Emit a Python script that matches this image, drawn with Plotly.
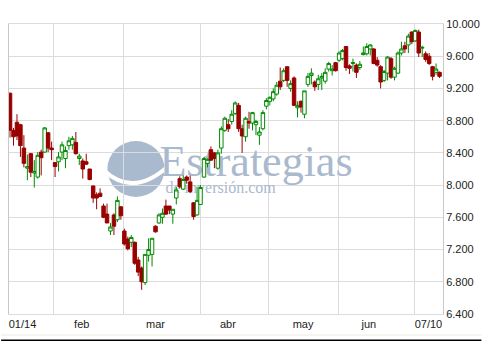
import plotly.graph_objects as go

# ---------------- data ----------------
day_index = list(range(125))
opens = [9.14, 8.68, 8.78, 8.75, 8.46, 8.21, 8.39, 8.15, 8.10, 8.41,
         8.41, 8.65, 8.46, 8.28, 8.29, 8.41, 8.33, 8.49, 8.50, 8.53,
         8.33, 8.30, 8.29, 8.20, 7.99, 7.88, 7.90, 7.74, 7.64, 7.43,
         7.63, 7.57, 7.73, 7.43, 7.33, 7.29, 7.29, 7.07, 6.97, 6.79,
         7.13, 7.14, 7.49, 7.53, 7.60, 7.74, 7.74, 7.64, 7.84, 8.08,
         7.95, 8.10, 8.04, 7.78, 7.63, 7.76, 8.10, 8.27, 8.44, 8.40,
         8.21, 8.46, 8.68, 8.75, 8.79, 8.89, 8.99, 8.70, 8.60, 8.79,
         8.77, 8.75, 8.62, 8.70, 8.98, 9.04, 9.07, 9.13, 9.29, 9.30,
         9.47, 9.20, 9.33, 8.96, 9.04, 8.88, 9.25, 9.36, 9.28, 9.25,
         9.33, 9.29, 9.44, 9.42, 9.52, 9.55, 9.57, 9.72, 9.48, 9.51,
         9.49, 9.46, 9.62, 9.63, 9.69, 9.69, 9.55, 9.47, 9.30, 9.39,
         9.57, 9.34, 9.39, 9.64, 9.73, 9.74, 9.90, 9.79, 9.90, 9.70,
         9.63, 9.60, 9.47, 9.40, 9.40]
highs = [9.15, 8.71, 8.88, 8.76, 8.62, 8.38, 8.40, 8.31, 8.41, 8.44,
         8.72, 8.66, 8.54, 8.28, 8.41, 8.54, 8.48, 8.60, 8.61, 8.66,
         8.39, 8.33, 8.39, 8.20, 7.99, 7.91, 7.96, 7.77, 7.77, 7.53,
         7.65, 7.86, 7.74, 7.46, 7.36, 7.38, 7.30, 7.11, 6.99, 7.14,
         7.34, 7.34, 7.50, 7.65, 7.71, 7.82, 7.74, 7.70, 7.98, 8.11,
         8.12, 8.12, 8.12, 7.79, 7.98, 8.00, 8.35, 8.33, 8.48, 8.41,
         8.44, 8.73, 8.85, 8.82, 8.93, 9.04, 9.02, 8.75, 8.85, 8.91,
         8.91, 8.81, 8.72, 8.93, 9.08, 9.10, 9.20, 9.28, 9.46, 9.45,
         9.47, 9.30, 9.35, 9.04, 9.05, 9.17, 9.39, 9.45, 9.30, 9.37,
         9.39, 9.45, 9.53, 9.49, 9.53, 9.66, 9.69, 9.72, 9.50, 9.57,
         9.51, 9.54, 9.72, 9.76, 9.75, 9.70, 9.59, 9.49, 9.43, 9.60,
         9.59, 9.47, 9.66, 9.78, 9.78, 9.88, 9.91, 9.93, 9.93, 9.73,
         9.66, 9.64, 9.48, 9.51, 9.41]
lows = [8.59, 8.49, 8.56, 8.35, 8.22, 8.06, 8.10, 7.97, 8.08, 8.12,
        8.40, 8.41, 8.31, 8.10, 8.17, 8.31, 8.21, 8.44, 8.44, 8.38,
        8.25, 8.08, 8.25, 8.06, 7.78, 7.70, 7.85, 7.59, 7.53, 7.38,
        7.38, 7.54, 7.57, 7.25, 7.19, 7.23, 7.01, 6.87, 6.70, 6.76,
        7.05, 6.99, 7.41, 7.52, 7.52, 7.63, 7.64, 7.52, 7.76, 7.96,
        7.94, 8.02, 7.90, 7.57, 7.62, 7.76, 8.09, 8.22, 8.30, 8.21,
        8.19, 8.39, 8.66, 8.66, 8.75, 8.87, 8.66, 8.40, 8.54, 8.70,
        8.68, 8.62, 8.50, 8.68, 8.94, 8.99, 9.04, 9.11, 9.18, 9.28,
        9.22, 9.16, 8.98, 8.84, 8.90, 8.83, 9.22, 9.25, 9.17, 9.18,
        9.18, 9.26, 9.41, 9.36, 9.41, 9.53, 9.55, 9.42, 9.38, 9.41,
        9.33, 9.43, 9.61, 9.61, 9.61, 9.50, 9.47, 9.20, 9.28, 9.30,
        9.32, 9.30, 9.38, 9.61, 9.64, 9.64, 9.75, 9.78, 9.59, 9.59,
        9.53, 9.49, 9.30, 9.37, 9.33]
closes = [8.68, 8.60, 8.61, 8.49, 8.27, 8.23, 8.16, 8.17, 8.37, 8.34,
          8.71, 8.46, 8.44, 8.23, 8.35, 8.50, 8.43, 8.55, 8.58, 8.39,
          8.36, 8.20, 8.26, 8.07, 7.84, 7.84, 7.86, 7.60, 7.53, 7.48,
          7.49, 7.81, 7.62, 7.27, 7.21, 7.35, 7.03, 6.92, 6.80, 7.14,
          7.20, 7.34, 7.42, 7.63, 7.65, 7.64, 7.69, 7.70, 7.94, 7.98,
          8.07, 8.06, 7.92, 7.61, 7.81, 7.97, 8.33, 8.32, 8.31, 8.33,
          8.40, 8.70, 8.83, 8.70, 8.88, 9.02, 8.70, 8.61, 8.83, 8.77,
          8.90, 8.79, 8.66, 8.90, 9.05, 9.09, 9.16, 9.24, 9.22, 9.42,
          9.30, 9.26, 8.99, 8.99, 8.97, 9.17, 9.35, 9.39, 9.22, 9.32,
          9.35, 9.40, 9.51, 9.44, 9.42, 9.64, 9.67, 9.46, 9.45, 9.52,
          9.40, 9.50, 9.64, 9.72, 9.74, 9.51, 9.49, 9.28, 9.41, 9.59,
          9.34, 9.45, 9.64, 9.69, 9.69, 9.85, 9.78, 9.92, 9.64, 9.71,
          9.56, 9.51, 9.35, 9.44, 9.35]

y_tick_vals = [6.4, 6.8, 7.2, 7.6, 8.0, 8.4, 8.8, 9.2, 9.6, 10.0]
y_tick_text = ["6.400", "6.800", "7.200", "7.600", "8.000", "8.400",
               "8.800", "9.200", "9.600", "10.000"]
x_label_pos = [3.6, 20.7, 42.0, 62.9, 84.6, 103.6, 120.8]
x_label_text = ["01/14", "feb", "mar", "abr", "may", "jun", "07/10"]
x_grid_pos = [12.5, 32.7, 55.1, 74.7, 94.9, 116.8]

# ---------------- geometry ----------------
W, H = 488, 341
L, R, T, B = 8, 449, 24, 314
XR = [-0.3, 125.0]
YR = [6.4, 10.0]


def px_x(px):
    return XR[0] + (px - L) / (R - L) * (XR[1] - XR[0])


def py_y(py):
    return YR[1] - (py - T) / (B - T) * (YR[1] - YR[0])


def pap_x(px):
    return (px - L) / (R - L)


def pap_y(py):
    return (B - py) / (B - T)


GRID = "#dcdcdc"
WM = "#a9b9ce"
TXT = "#222222"
FONT = "Liberation Sans, Arial, sans-serif"

fig = go.Figure()

# watermark text (base subplot, below the candles)
fig.add_trace(go.Scatter(
    x=[px_x(259), px_x(223)], y=[py_y(165), py_y(189)],
    mode="text", text=["Estrategias", "de inversión.com"],
    textfont=dict(family="Liberation Serif, Times New Roman, serif",
                  size=[44, 16], color=WM),
    textposition="middle center", hoverinfo="skip", showlegend=False,
    xaxis="x", yaxis="y"))

# candles on the overlaying subplot
fig.add_trace(go.Candlestick(
    x=day_index, open=opens, high=highs, low=lows, close=closes,
    increasing=dict(line=dict(color="#008a00", width=1), fillcolor="#ffffff"),
    decreasing=dict(line=dict(color="#990000", width=1), fillcolor="#990000"),
    whiskerwidth=0, showlegend=False, hoverinfo="skip",
    xaxis="x2", yaxis="y2"))

shapes = [
    # logo disc
    dict(type="circle", xref="paper", yref="paper", layer="between",
         x0=pap_x(108), x1=pap_x(166), y0=pap_y(197), y1=pap_y(141),
         fillcolor=WM, line=dict(width=0)),
    # logo swoosh
    dict(type="path", xref="paper", yref="paper", layer="between",
         path="M {:.4f},{:.4f} Q {:.4f},{:.4f} {:.4f},{:.4f}".format(
             pap_x(104), pap_y(170), pap_x(134), pap_y(198),
             pap_x(170), pap_y(166)),
         line=dict(color="#ffffff", width=4)),
    # bottom frame lines
    dict(type="line", xref="paper", yref="paper", layer="above",
         x0=pap_x(0), x1=pap_x(488), y0=pap_y(335), y1=pap_y(335),
         line=dict(color="#ecebe0", width=1)),
    dict(type="line", xref="paper", yref="paper", layer="above",
         x0=pap_x(0), x1=pap_x(488), y0=pap_y(340.5), y1=pap_y(340.5),
         line=dict(color="#000000", width=2)),
]

fig.update_layout(
    width=W, height=H,
    margin=dict(l=L, r=W - R, t=T, b=H - B, pad=0),
    paper_bgcolor="#ffffff", plot_bgcolor="#ffffff",
    showlegend=False,
    boxgap=0.0, boxgroupgap=0,
    font=dict(family=FONT, size=11, color=TXT),
    shapes=shapes,
    xaxis=dict(range=XR, tickmode="array", tickvals=x_label_pos,
               ticktext=x_label_text, showgrid=False, zeroline=False,
               ticks="", showline=True, linecolor=GRID, mirror=True,
               tickfont=dict(family=FONT, size=11, color=TXT),
               minor=dict(tickmode="array", tickvals=x_grid_pos,
                          showgrid=True, gridcolor=GRID, gridwidth=1,
                          ticks=""),
               fixedrange=True),
    yaxis=dict(range=YR, side="right", tickmode="array",
               tickvals=y_tick_vals, ticktext=y_tick_text,
               showgrid=True, gridcolor=GRID, gridwidth=1, zeroline=False,
               ticks="", showline=True, linecolor="#c8c8c8", mirror=True,
               tickfont=dict(family=FONT, size=11, color=TXT),
               fixedrange=True),
    xaxis2=dict(range=XR, overlaying="x", visible=False,
                rangeslider=dict(visible=False), fixedrange=True),
    yaxis2=dict(range=YR, overlaying="y", visible=False, side="right",
                fixedrange=True),
)

fig.write_html("out.html")
